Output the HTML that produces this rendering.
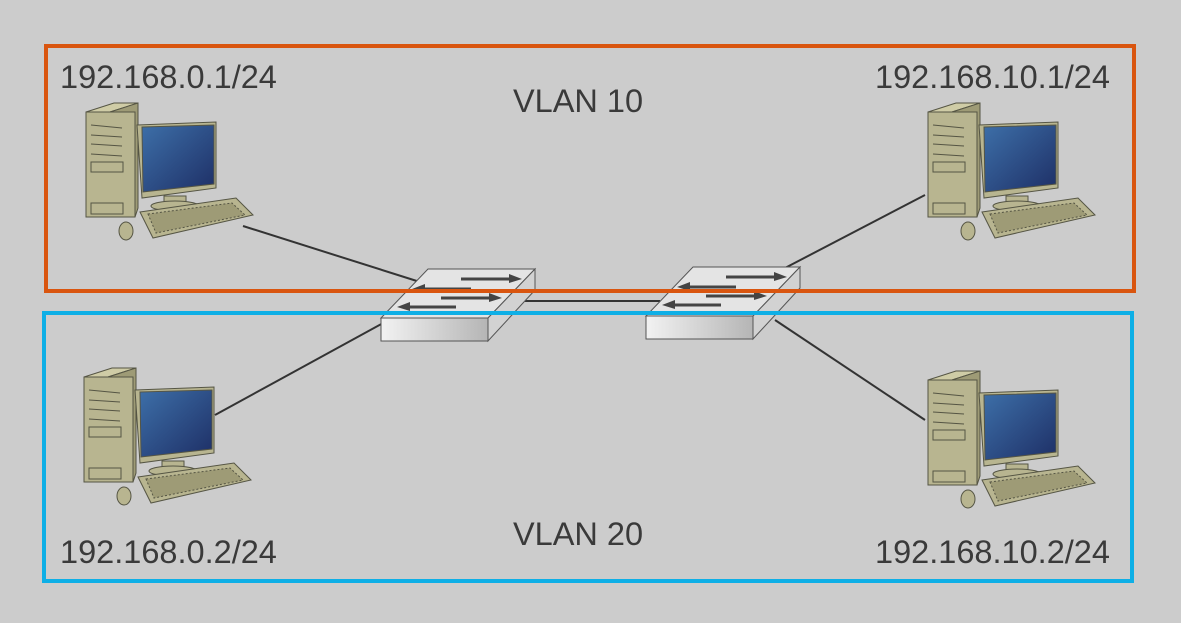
<!DOCTYPE html>
<html><head><meta charset="utf-8"><style>
html,body{margin:0;padding:0;background:#cccccc;}
svg{display:block}
text{font-family:"Liberation Sans",sans-serif;font-size:32.5px;fill:#3a3a3a}
</style></head><body>
<svg width="1181" height="623" viewBox="0 0 1181 623">
<defs>
<linearGradient id="scr" x1="0" y1="0" x2="1" y2="1"><stop offset="0" stop-color="#3d6fa8"/><stop offset="1" stop-color="#1e2f66"/></linearGradient>
<linearGradient id="sw" x1="0" y1="0" x2="1" y2="0"><stop offset="0" stop-color="#f2f2f2"/><stop offset="1" stop-color="#b5b5b5"/></linearGradient>
<g id="pc" stroke="#555544" stroke-width="1">
<polygon points="6,12 34,3 58,3 30,12" fill="#cfcca6"/>
<polygon points="30,12 58,3 58,108 55,117 30,117" fill="#9e9b76"/>
<rect x="6" y="12" width="49" height="105" fill="#b8b590"/>
<line x1="11" y1="25" x2="42" y2="28"/><line x1="11" y1="35" x2="42" y2="37"/><line x1="11" y1="44" x2="42" y2="46"/><line x1="11" y1="54" x2="42" y2="56"/>
<rect x="11" y="62" width="32" height="10" fill="#b8b590"/>
<rect x="11" y="103" width="32" height="11" fill="#b8b590"/>
<polygon points="57,25 136,22 136,88 62,98" fill="#b8b590"/>
<polygon points="62,27 134,25 134,84 63,92" fill="url(#scr)"/>
<rect x="84" y="96" width="22" height="8" fill="#b8b590"/>
<ellipse cx="95" cy="106" rx="24" ry="5" fill="#b8b590"/>
<polygon points="60,112 156,98 173,115 73,138" fill="#b8b590"/>
<polygon points="68,114 152,103 165,115 76,133" fill="#9e9b76" stroke-dasharray="2 2"/>
<ellipse cx="46" cy="131" rx="7" ry="9" fill="#b8b590"/>
</g>
<g id="swt" stroke="#555" stroke-width="1">
<polygon points="47,0 154,0 107,49 0,49" fill="#e4e4e4"/>
<polygon points="154,0 154,21 107,72 107,49" fill="#d2d2d2"/>
<rect x="0" y="49" width="107" height="23" fill="url(#sw)"/>
<g stroke="#444" stroke-width="3" fill="#444">
<line x1="80" y1="10" x2="130" y2="10"/><polygon points="128,5 141,10 128,14" stroke="none"/>
<line x1="40" y1="20" x2="90" y2="20"/><polygon points="44,15 31,20 44,24" stroke="none"/>
<line x1="60" y1="29" x2="110" y2="29"/><polygon points="108,24 121,29 108,33" stroke="none"/>
<line x1="25" y1="38" x2="75" y2="38"/><polygon points="29,33 16,38 29,42" stroke="none"/>
</g>
</g>
</defs>
<g stroke="#333" stroke-width="2">
<line x1="243" y1="226" x2="420" y2="282"/>
<line x1="925" y1="195" x2="785" y2="268"/>
<line x1="215" y1="415" x2="385" y2="322"/>
<line x1="925" y1="420" x2="775" y2="320"/>
<line x1="525" y1="301" x2="660" y2="301"/>
</g>
<use href="#pc" x="80" y="100"/>
<use href="#pc" x="922" y="100"/>
<use href="#pc" x="78" y="365"/>
<use href="#pc" x="922" y="368"/>
<use href="#swt" x="381" y="269"/>
<use href="#swt" x="646" y="267"/>
<rect x="46" y="46" width="1088" height="245" fill="none" stroke="#d9550f" stroke-width="4"/>
<rect x="44" y="313" width="1088" height="268" fill="none" stroke="#0eafe6" stroke-width="4"/>
<text x="60" y="88">192.168.0.1/24</text>
<text x="875" y="88">192.168.10.1/24</text>
<text x="513" y="112">VLAN 10</text>
<text x="513" y="545">VLAN 20</text>
<text x="60" y="563">192.168.0.2/24</text>
<text x="875" y="563">192.168.10.2/24</text>
</svg>
</body></html>
